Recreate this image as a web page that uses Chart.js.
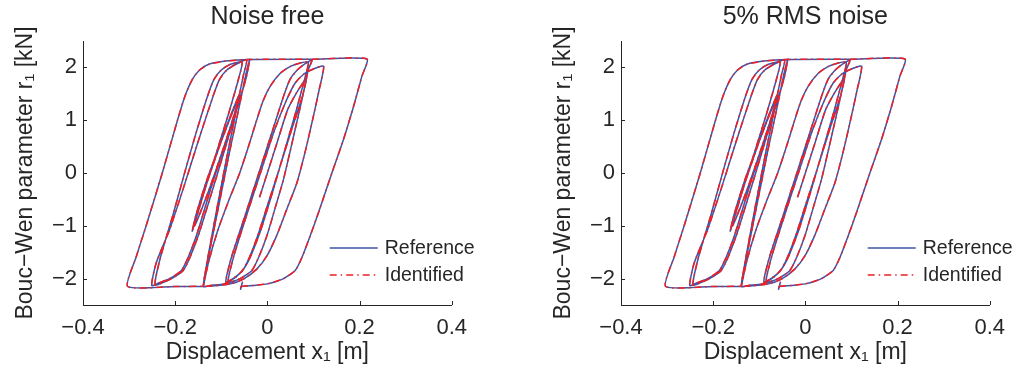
<!DOCTYPE html>
<html>
<head>
<meta charset="utf-8">
<script src="https://cdn.jsdelivr.net/npm/chart.js@4.4.1/dist/chart.umd.min.js"></script>
<style>
  body { margin: 0; background: #fff; }
  .panel { position: absolute; top: 0; width: 477px; height: 368px; }
</style>
</head>
<body>
<div class="panel" style="left:0px"><canvas id="chart1" width="477" height="368"></canvas></div>
<div class="panel" style="left:538px"><canvas id="chart2" width="477" height="368"></canvas></div>
<script>
// displacement x1 [m], one line per branch of the hysteresis path
const dispX = [
  -0.017, 0.000, 0.022, 0.044, 0.062, 0.075, 0.085,
  0.076, 0.050, 0.023, 0.000, -0.021, -0.039, -0.054, -0.073, -0.090,
  -0.078, -0.050, -0.020, 0.010, 0.035, 0.049, 0.065, 0.082, 0.097,
  0.089, 0.075, 0.057, 0.035, 0.017, -0.001, -0.019, -0.034, -0.059, -0.094, -0.124, -0.139,
  -0.128, -0.105, -0.082, -0.060, -0.047, -0.038,
  -0.046, -0.070, -0.094, -0.120, -0.150, -0.168, -0.183, -0.208, -0.228, -0.244,
  -0.232, -0.205, -0.178, -0.155, -0.130, -0.116, -0.100, -0.080, -0.055,
  -0.062, -0.085, -0.110, -0.135, -0.163,
  -0.155, -0.130, -0.100, -0.078, -0.065,
  -0.072, -0.100, -0.130, -0.158,
  -0.150, -0.120, -0.090, -0.070, -0.060,
  -0.067, -0.090, -0.120, -0.154, -0.172, -0.187, -0.212, -0.235, -0.251,
  -0.241, -0.212, -0.183, -0.150, -0.118, -0.104, -0.088, -0.068, -0.045,
  -0.052, -0.066, -0.088, -0.110, -0.127, -0.135, -0.139,
  -0.128, -0.108, -0.085, -0.060, -0.041, -0.025, -0.010, 0.006, 0.028, 0.050, 0.070, 0.089,
  0.080, 0.060, 0.035, 0.010, -0.015, -0.035, -0.050, -0.068, -0.085,
  -0.072, -0.045, -0.015, 0.015, 0.040, 0.060, 0.080, 0.100, 0.122,
  0.113, 0.098, 0.082, 0.064, 0.042, 0.020, -0.001, -0.023, -0.052, -0.080, -0.120, -0.200, -0.303,
  -0.285, -0.263, -0.228, -0.195, -0.179, -0.163, -0.147, -0.127, -0.090, -0.040, 0.100, 0.216,
  0.205, 0.187, 0.165, 0.140, 0.111, 0.093, 0.075, 0.060, 0.035, 0.000, -0.030, -0.057, -0.058, -0.054
];
// Bouc-Wen parameter r1 [kN]
const paramR = [
  -0.46, 0.00, 0.60, 1.20, 1.50, 1.68, 1.80,
  1.45, 0.75, 0.00, -0.62, -1.19, -1.60, -1.85, -1.99, -2.07,
  -1.60, -0.85, -0.04, 0.77, 1.45, 1.77, 1.95, 2.07, 2.14,
  1.96, 1.39, 0.70, -0.12, -0.66, -1.19, -1.60, -1.85, -2.00, -2.10, -2.13, -2.15,
  -1.60, -0.60, 0.40, 1.30, 1.85, 2.16,
  1.80, 1.10, 0.40, -0.35, -1.19, -1.60, -1.85, -2.00, -2.08, -2.12,
  -1.60, -0.80, 0.05, 0.75, 1.45, 1.77, 1.95, 2.06, 2.10,
  1.80, 1.10, 0.40, -0.30, -1.10,
  -0.80, -0.10, 0.60, 1.10, 1.35,
  1.10, 0.35, -0.40, -1.00,
  -0.70, 0.10, 0.85, 1.30, 1.50,
  1.25, 0.60, -0.22, -1.19, -1.60, -1.85, -2.00, -2.08, -2.13,
  -1.70, -1.07, -0.31, 0.60, 1.45, 1.77, 1.95, 2.06, 2.14,
  1.85, 1.25, 0.30, -0.70, -1.50, -1.90, -2.15,
  -1.70, -1.10, -0.55, 0.00, 0.50, 0.95, 1.35, 1.64, 1.89, 2.02, 2.08, 2.10,
  1.75, 1.10, 0.35, -0.40, -1.10, -1.55, -1.80, -1.97, -2.05,
  -1.55, -0.80, 0.00, 0.80, 1.35, 1.70, 1.88, 1.97, 2.02,
  1.60, 1.00, 0.40, -0.19, -0.69, -1.19, -1.57, -1.82, -2.01, -2.10, -2.14, -2.15, -2.15,
  -1.60, -1.00, 0.00, 1.00, 1.45, 1.77, 1.95, 2.06, 2.12, 2.15, 2.155, 2.16,
  1.83, 1.26, 0.63, 0.00, -0.75, -1.19, -1.60, -1.85, -2.00, -2.10, -2.13, -2.15, -2.20, -2.06
];
const xTicks = [-0.4, -0.2, 0, 0.2, 0.4];
const yTicks = [-2, -1, 0, 1, 2];
const panelTitles = ['Noise free', '5% RMS noise'];
const seriesNames = ['Reference', 'Identified'];

const FONT = "'Liberation Sans', Arial, sans-serif";
const AXIS = '#262626';
const BLUE = 'rgb(62,84,166)';
const RED = 'rgb(236,32,38)';

Chart.defaults.font.family = FONT;
Chart.defaults.color = AXIS;

const fmt = v => String(v).replace('-', '\u2212');

// inward tick marks like the original figure
const innerTicks = {
  id: 'innerTicks',
  afterDraw(chart) {
    const { ctx, chartArea, scales } = chart;
    ctx.save();
    ctx.strokeStyle = AXIS;
    ctx.lineWidth = 1;
    ctx.beginPath();
    xTicks.forEach(v => {
      const px = Math.round(scales.x.getPixelForValue(v)) + 0.5;
      ctx.moveTo(px, chartArea.bottom);
      ctx.lineTo(px, chartArea.bottom - 4);
    });
    yTicks.forEach(v => {
      const py = Math.round(scales.y.getPixelForValue(v)) + 0.5;
      ctx.moveTo(chartArea.left, py);
      ctx.lineTo(chartArea.left + 4, py);
    });
    ctx.stroke();
    ctx.restore();
  }
};

// legend drawn inside the plot, lower right
const innerLegend = {
  id: 'innerLegend',
  afterDatasetsDraw(chart) {
    const { ctx, chartArea } = chart;
    ctx.save();
    ctx.font = '19.5px ' + FONT;
    ctx.textBaseline = 'middle';
    [1, 0].forEach((di, i) => {
      const ds = chart.data.datasets[di];
      const y = chartArea.bottom - 57 + i * 27;
      ctx.strokeStyle = ds.borderColor;
      ctx.lineWidth = ds.borderWidth;
      ctx.setLineDash(ds.borderDash || []);
      ctx.beginPath();
      ctx.moveTo(chartArea.right - 122, y);
      ctx.lineTo(chartArea.right - 74, y);
      ctx.stroke();
      ctx.setLineDash([]);
      ctx.fillStyle = AXIS;
      ctx.fillText(ds.label, chartArea.right - 67, y + 1);
    });
    ctx.restore();
  }
};

function makeChart(id, title) {
  const pts = dispX.map((x, i) => ({ x: x, y: paramR[i] }));
  return new Chart(document.getElementById(id).getContext('2d'), {
    type: 'scatter',
    data: {
      datasets: [
        // identified listed first so it is drawn on top of the reference
        { label: seriesNames[1], data: pts, showLine: true, borderColor: RED, borderWidth: 1.5,
          borderDash: [7, 4, 1.5, 4], pointRadius: 0, tension: 0.2 },
        { label: seriesNames[0], data: pts, showLine: true, borderColor: BLUE, borderWidth: 1.5,
          pointRadius: 0, tension: 0.2 }
      ]
    },
    options: {
      responsive: false,
      animation: false,
      layout: { padding: { left: 0, right: 11, top: 0, bottom: 0 } },
      plugins: {
        legend: { display: false },
        tooltip: { enabled: false },
        title: {
          display: true, text: title, fullSize: false, color: AXIS,
          font: { size: 25, weight: 'normal' }, padding: { top: 2, bottom: 9 }
        }
      },
      scales: {
        x: {
          type: 'linear', min: -0.4, max: 0.4,
          afterBuildTicks: s => { s.ticks = xTicks.map(v => ({ value: v })); },
          afterFit: s => { s.height = 63; },
          grid: { display: false, drawTicks: false },
          border: { display: true, color: AXIS, width: 1 },
          ticks: { font: { size: 22 }, color: AXIS, padding: 10, maxRotation: 0, callback: fmt },
          title: { display: true, text: 'Displacement x\u2081 [m]', color: AXIS,
                   font: { size: 23 }, padding: { top: 0, bottom: 2 } }
        },
        y: {
          type: 'linear', min: -2.5, max: 2.5,
          afterBuildTicks: s => { s.ticks = yTicks.map(v => ({ value: v })); },
          afterFit: s => { s.width = 83; },
          grid: { display: false, drawTicks: false },
          border: { display: true, color: AXIS, width: 1 },
          ticks: { font: { size: 22 }, color: AXIS, padding: 6, callback: fmt },
          title: { display: true, text: 'Bouc\u2212Wen parameter r\u2081 [kN]', color: AXIS,
                   font: { size: 23 }, padding: { top: 12, bottom: 0 } }
        }
      }
    },
    plugins: [innerTicks, innerLegend]
  });
}

makeChart('chart1', panelTitles[0]);
makeChart('chart2', panelTitles[1]);
</script>
</body>
</html>
